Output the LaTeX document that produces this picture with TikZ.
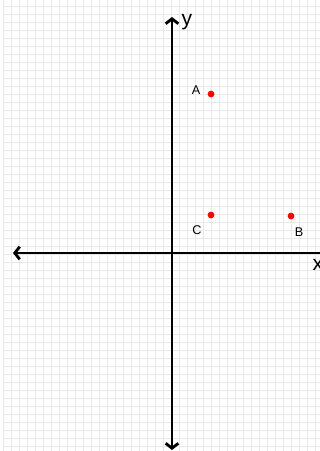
\documentclass[tikz,border=0pt]{standalone}
\usepackage{fontspec}
\setmainfont{Liberation Sans}
\usetikzlibrary{arrows.meta}

\begin{document}
\begin{tikzpicture}
  [x=0.025cm,y=-0.025cm,
   gridline/.style={draw=black!9,line width=0.7pt},
   axis/.style={line width=1.4pt,>={Straight Barb[length=3.5pt,width=9pt,line width=2pt]}},
   dot/.style={circle,fill=red,inner sep=0pt,minimum size=4.8pt},
   lbl/.style={inner sep=0pt,font=\fontsize{9}{10}\selectfont},
   axlbl/.style={inner sep=0pt,font=\fontsize{15}{16}\selectfont}]
  \useasboundingbox (0,0) rectangle (320,451);
  \fill[white] (0,0) rectangle (320,451);

  % grid
  \foreach \gx in {0,...,39}
    \draw[gridline] (3.5+8*\gx,0) -- (3.5+8*\gx,451);
  \foreach \gy in {0,...,56}
    \draw[gridline] (3.5,6.7+8*\gy) -- (320,6.7+8*\gy);

  % axes
  \coordinate (ytop) at (172,17);
  \coordinate (ybot) at (172,450);
  \coordinate (xleft) at (13,253);
  \coordinate (xright) at (320,253);
  \draw[axis,<->] (ybot) -- (ytop);
  \draw[axis,<-] (xleft) -- (xright);
  \node[axlbl] (ly) at (187,22) {y};
  \node[axlbl] (lx) at (318,265) {x};

  % points
  \node[dot] (A) at (211,94) {};
  \node[dot] (C) at (211,215) {};
  \node[dot] (B) at (291,216) {};
  \node[lbl] (lA) at (196,90) {A};
  \node[lbl] (lC) at (197,230) {C};
  \node[lbl] (lB) at (299,232) {B};
\end{tikzpicture}
\end{document}
